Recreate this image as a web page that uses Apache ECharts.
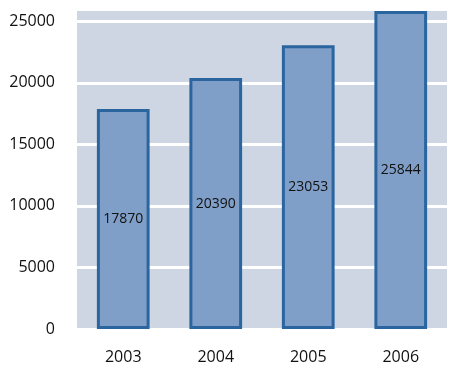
<!DOCTYPE html>
<html><head><meta charset="utf-8">
<script src="https://cdn.jsdelivr.net/npm/echarts@6/dist/echarts.min.js"></script>
<style>html,body{margin:0;padding:0;background:#fff}#c{width:454px;height:376px}</style>
</head><body><div id="c"></div>
<script>
const categories = ['2003', '2004', '2005', '2006'];
const values = [17870, 20390, 23053, 25844];
const yTicks = [0, 5000, 10000, 15000, 20000, 25000];

const chart = echarts.init(document.getElementById('c'), null, {renderer: 'canvas'});
chart.setOption({
  animation: false,
  grid: {left: 77, right: 7, top: 9, bottom: 47, show: true, backgroundColor: '#cdd6e2', borderWidth: 0},
  xAxis: {
    type: 'category', data: categories,
    axisLine: {show: false}, axisTick: {show: false},
    axisLabel: {color: '#111', fontFamily: 'Open Sans', fontSize: 16, margin: 20}
  },
  yAxis: {
    type: 'value', min: 0, max: 26000, interval: 5000,
    axisLine: {show: false}, axisTick: {show: false},
    splitLine: {lineStyle: {color: '#ffffff', width: 3}},
    axisLabel: {color: '#111', fontFamily: 'Open Sans', fontSize: 16, margin: 22,
      formatter: v => yTicks.includes(v) ? String(v) : ''}
  },
  series: [{
    type: 'bar', data: values, barWidth: '57%',
    itemStyle: {color: '#7f9fc8', borderColor: '#2a65a0', borderWidth: 3},
    label: {show: true, position: 'inside', color: '#111', fontFamily: 'Open Sans', fontSize: 14}
  }]
});
</script></body></html>
